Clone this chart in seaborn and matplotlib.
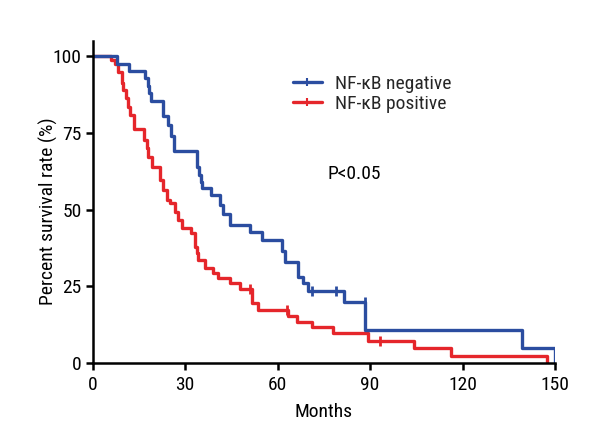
import matplotlib
matplotlib.use("Agg")
import matplotlib.pyplot as plt
from matplotlib import font_manager
from matplotlib.lines import Line2D
import seaborn as sns
import pandas as pd

# ---- data ----
neg_months = [0, 7.8, 11.9, 17.0, 17.8, 18.4, 19.0, 22.9, 24.5, 25.4, 26.4, 34.0, 34.6, 35.0, 35.5,
              38.3, 41.3, 42.4, 44.5, 51.0, 54.8, 61.3, 62.5, 66.7, 68.3, 69.9, 81.5, 88.5, 139.3, 150]
neg_surv = [100, 97.4, 95.1, 92.7, 90.3, 87.8, 85.4, 80.5, 77.5, 74.0, 69.1, 64.0, 61.3, 59.1, 56.9,
            54.9, 51.5, 48.5, 45.1, 42.8, 40.1, 36.5, 33.1, 28.2, 26.0, 23.6, 20.0, 10.8, 5.1, 0]
neg_cens_months = [71.0, 79.1, 88.5]
neg_cens_surv = [23.6, 23.6, 20.0]

pos_months = [0, 5.8, 7.2, 8.3, 9.4, 9.9, 10.8, 11.6, 12.1, 13.4, 16.6, 17.5, 18.0, 19.1, 21.9, 22.9,
              24.0, 25.1, 26.7, 27.8, 28.9, 31.8, 33.2, 33.7, 34.3, 36.4, 39.1, 40.7, 44.5, 47.8,
              51.6, 53.7, 63.5, 66.2, 71.0, 78.0, 89.4, 104.3, 116.4, 147.3]
pos_surv = [100, 98.6, 97.4, 94.9, 91.1, 88.9, 86.2, 83.5, 80.8, 76.1, 72.7, 70.0, 67.2, 63.8, 59.6, 56.4,
            53.1, 52.1, 49.3, 46.6, 43.9, 42.3, 38.0, 35.8, 33.6, 30.9, 29.5, 27.7, 26.0, 24.1,
            19.5, 17.2, 15.4, 13.5, 11.7, 9.8, 7.4, 5.0, 2.5, 0]
pos_cens_months = [51.0, 62.9, 93.2]
pos_cens_surv = [24.1, 17.2, 7.4]

groups = ["NF-\u03baB negative", "NF-\u03baB positive"]
x_ticks = [0, 30, 60, 90, 120, 150]
y_ticks = [0, 25, 50, 75, 100]
p_text = "P<0.05"

BLUE = "#2B4DA0"
RED = "#E5262B"

sns.set_theme(style="white")

# pick a narrow/condensed face if one is installed
fl = font_manager.fontManager.ttflist
names = {f.name for f in fl}
fam, stretch = "DejaVu Sans", "normal"
for cand in ["Liberation Sans Narrow", "Roboto Condensed", "Open Sans Condensed"]:
    if cand in names:
        fam = cand
        break
else:
    for f in fl:
        if f.name in ("Roboto", "Open Sans", "DejaVu Sans") and str(f.stretch) in ("condensed", "semi-condensed", "75", "87.5"):
            fam, stretch = f.name, "condensed"
            break
plt.rcParams["font.family"] = [fam, "DejaVu Sans"]
plt.rcParams["font.stretch"] = stretch

FS = 14

fig = plt.figure(figsize=(6, 4.4), dpi=100)
ax = fig.add_axes([0.1545, 0.1743, 0.7705, 0.7334])

df_neg = pd.DataFrame({"Months": neg_months, "Survival": neg_surv})
df_pos = pd.DataFrame({"Months": pos_months, "Survival": pos_surv})

sns.lineplot(data=df_pos, x="Months", y="Survival", drawstyle="steps-post", color=RED,
             linewidth=2.4, estimator=None, ax=ax)
sns.lineplot(data=df_neg, x="Months", y="Survival", drawstyle="steps-post", color=BLUE,
             linewidth=2.4, estimator=None, ax=ax)

cn = pd.DataFrame({"Months": neg_cens_months, "Survival": neg_cens_surv})
cp = pd.DataFrame({"Months": pos_cens_months, "Survival": pos_cens_surv})
sns.scatterplot(data=cp, x="Months", y="Survival", marker="|", s=50, linewidth=2, color=RED, ax=ax)
sns.scatterplot(data=cn, x="Months", y="Survival", marker="|", s=50, linewidth=2, color=BLUE, ax=ax)

ax.set_xlim(0, 150)
ax.set_ylim(0, 105)
ax.set_xticks(x_ticks)
ax.set_yticks(y_ticks)
ax.set_xticklabels([str(v) for v in x_ticks], fontsize=FS)
ax.set_yticklabels([str(v) for v in y_ticks], fontsize=FS)
ax.tick_params(axis="both", direction="out", length=5, width=1.8, color="black",
               bottom=True, left=True, labelcolor="black")
ax.tick_params(axis="x", pad=4)
ax.tick_params(axis="y", pad=3)
for side in ["top", "right"]:
    ax.spines[side].set_visible(False)
for side in ["left", "bottom"]:
    ax.spines[side].set_color("black")
    ax.spines[side].set_linewidth(1.8)
ax.set_xlabel("Months", fontsize=FS, color="black")
ax.set_ylabel("Percent survival rate (%)", fontsize=FS, color="black")
ax.xaxis.set_label_coords(0.5, -0.123)
ax.yaxis.set_label_coords(-0.0757, 0.472)
ax.grid(False)

handles = [Line2D([0], [0], color=BLUE, lw=2.4, marker="|", markersize=6, mew=1.5),
           Line2D([0], [0], color=RED, lw=2.4, marker="|", markersize=6, mew=1.5)]
ax.legend(handles, groups, loc="upper left", bbox_to_anchor=(0.4155, 0.9176), frameon=False,
          fontsize=FS, handlelength=1.5, handletextpad=0.67, labelspacing=0.1, borderaxespad=0)

ax.text(0.508, 0.587, p_text, transform=ax.transAxes, fontsize=FS, color="black",
        ha="left", va="center")

fig.savefig("out.png", dpi=100, facecolor="white")
